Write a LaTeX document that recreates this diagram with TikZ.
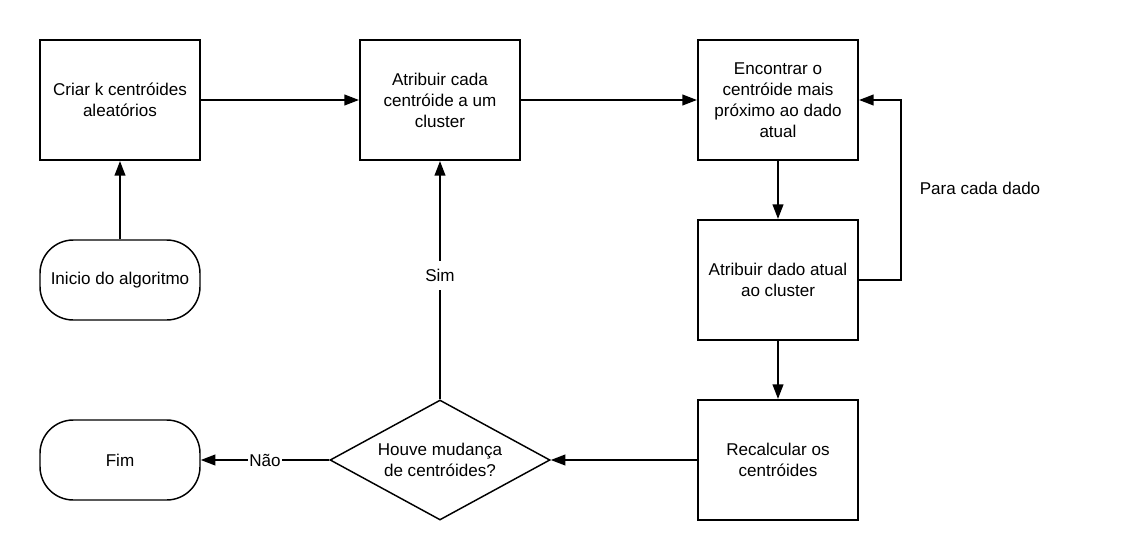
\documentclass[tikz,border=0pt]{standalone}
\usepackage{fontspec}
\setmainfont{Liberation Sans}
\usetikzlibrary{arrows.meta,shapes.geometric}
\begin{document}
\begin{tikzpicture}[x=0.75pt,y=-0.75pt,>={Triangle[length=11pt,width=8pt]},line width=1.5pt]
    \tikzstyle{every node}=[font=\fontsize{12.8}{15.8}\selectfont]
    \tikzstyle{passo}=[draw,rectangle,minimum width=120pt,minimum height=90pt,align=center,inner sep=0pt]
    \tikzstyle{terminal}=[draw,rectangle,rounded corners=25pt,minimum width=120pt,minimum height=60pt,align=center,inner sep=0pt,line width=1.1pt]
    \tikzstyle{decisao}=[draw,diamond,aspect=1.833,minimum width=165pt,minimum height=90pt,inner sep=0pt,align=center,line width=1.1pt]
    \tikzstyle{rotulo}=[fill=white,inner sep=1pt]

    \useasboundingbox (0,0) rectangle (1139,560);

    \node[passo] (criar) at (120,100) {Criar k centróides\\aleatórios};
    \node[passo] (cada) at (440,100) {Atribuir cada\\centróide a um\\cluster};
    \node[passo] (encontrar) at (778,100) {Encontrar o\\centróide mais\\próximo ao dado\\atual};
    \node[passo] (atual) at (778,280) {Atribuir dado atual\\ao cluster};
    \node[passo] (recalc) at (778,460) {Recalcular os\\centróides};

    \node[terminal] (inicio) at (120,280) {Inicio do algoritmo};
    \node[terminal] (fim) at (120,460) {Fim};

    \node[decisao] (mudanca) at (440,460) {Houve mudança\\de centróides?};

    \node (paracada) at (980,188) {Para cada dado};

    \draw[->] (inicio) -- (criar);
    \draw[->] (criar) -- (cada);
    \draw[->] (cada) -- (encontrar);
    \draw[->] (encontrar) -- (atual);
    \draw[->] (atual.east) -- ++(42,0) |- (encontrar.east);
    \draw[->] (atual) -- (recalc);
    \draw[->] (recalc) -- (mudanca);
    \draw[->] (mudanca) -- node[rotulo,inner ysep=6pt,pos=0.52]{Sim} (cada);
    \draw[->] (mudanca) -- node[rotulo]{Não} (fim);
\end{tikzpicture}
\end{document}
